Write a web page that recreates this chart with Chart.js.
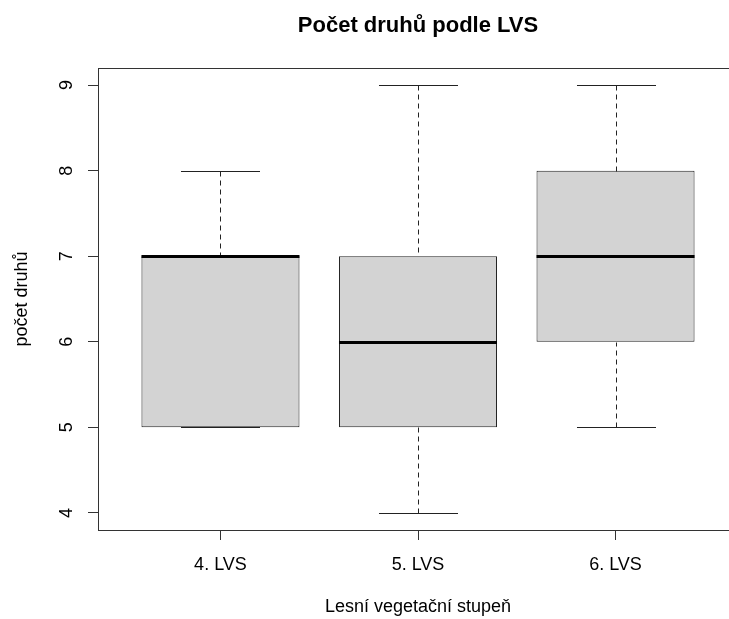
<!DOCTYPE html>
<html><head><meta charset="utf-8">
<script src="https://cdn.jsdelivr.net/npm/chart.js@4/dist/chart.umd.min.js"></script>
<style>html,body{margin:0;padding:0;background:#fff;overflow:hidden;width:729px;height:619px}canvas{display:block}</style>
</head><body>
<canvas id="c" width="740" height="619" style="width:740px;height:619px"></canvas>
<script>
const categories = ['4. LVS', '5. LVS', '6. LVS'];
const positions = [1, 2, 3];
const mins = [5, 4, 5];
const q1s = [5, 5, 6];
const medians = [7, 6, 7];
const q3s = [7, 7, 8];
const maxs = [8, 9, 9];
const yTicks = [4, 5, 6, 7, 8, 9];
const chartTitle = 'Počet druhů podle LVS';
const xTitle = 'Lesní vegetační stupeň';
const yTitle = 'počet druhů';

const FONT = "'Liberation Sans', Arial, sans-serif";
Chart.defaults.font.family = FONT;
Chart.defaults.color = '#000';

const boxPlugin = {
  id: 'boxExtras',
  afterDatasetsDraw(chart) {
    const ctx = chart.ctx;
    const xs = chart.scales.x, ys = chart.scales.y;
    const meta = chart.getDatasetMeta(0);
    ctx.save();
    positions.forEach((p, i) => {
      const bar = meta.data[i];
      const half = bar.width / 2;
      const cx = Math.round(xs.getPixelForValue(p)) + 0.5;
      const yMin = Math.round(ys.getPixelForValue(mins[i])) + 0.5;
      const yQ1 = Math.round(ys.getPixelForValue(q1s[i])) + 0.5;
      const yQ3 = Math.round(ys.getPixelForValue(q3s[i])) + 0.5;
      const yMax = Math.round(ys.getPixelForValue(maxs[i])) + 0.5;
      const yMed = Math.round(ys.getPixelForValue(medians[i]));
      ctx.strokeStyle = '#222';
      ctx.lineWidth = 1;
      // whiskers
      ctx.setLineDash([5, 4]);
      ctx.beginPath();
      if (yMax < yQ3) { ctx.moveTo(cx, yMax); ctx.lineTo(cx, yQ3); }
      if (yMin > yQ1) { ctx.moveTo(cx, yMin); ctx.lineTo(cx, yQ1); }
      ctx.stroke();
      ctx.setLineDash([]);
      // caps
      ctx.beginPath();
      ctx.moveTo(cx - half / 2, yMax); ctx.lineTo(cx + half / 2, yMax);
      ctx.moveTo(cx - half / 2, yMin); ctx.lineTo(cx + half / 2, yMin);
      ctx.stroke();
      // median
      ctx.strokeStyle = '#000';
      ctx.lineWidth = 3;
      ctx.beginPath();
      ctx.moveTo(bar.x - half, yMed + 0.5); ctx.lineTo(bar.x + half, yMed + 0.5);
      ctx.stroke();
    });
    ctx.restore();
  },
  afterDraw(chart) {
    const ctx = chart.ctx;
    const a = chart.chartArea;
    ctx.save();
    ctx.strokeStyle = '#333';
    ctx.lineWidth = 1;
    ctx.strokeRect(Math.round(a.left) + 0.5, Math.round(a.top) + 0.5,
                   Math.round(a.right - a.left), Math.round(a.bottom - a.top));
    ctx.fillStyle = '#000';
    ctx.font = "bold 22px " + FONT;
    ctx.textAlign = 'center';
    ctx.textBaseline = 'alphabetic';
    ctx.fillText(chartTitle, (a.left + a.right) / 2, 32);
    ctx.restore();
  }
};

new Chart(document.getElementById('c'), {
  type: 'bar',
  data: {
    datasets: [{
      data: positions.map((p, i) => ({ x: p, y: [q1s[i], q3s[i]] })),
      backgroundColor: '#d3d3d3',
      borderColor: '#222',
      borderWidth: 1,
      borderSkipped: false,
      barPercentage: 0.8,
      categoryPercentage: 1.0
    }]
  },
  options: {
    responsive: false,
    animation: false,
    events: [],
    layout: { padding: { left: 0, right: 2, top: 68, bottom: 0 } },
    plugins: { legend: { display: false }, tooltip: { enabled: false }, title: { display: false } },
    scales: {
      x: {
        type: 'linear',
        min: 0.38, max: 3.62,
        offset: false,
        afterBuildTicks: s => { s.ticks = positions.map(v => ({ value: v })); },
        afterFit: s => { s.height = 89; },
        ticks: {
          callback: v => categories[positions.indexOf(v)],
          font: { size: 18 }, color: '#000', padding: 14,
          maxRotation: 0, minRotation: 0, autoSkip: false
        },
        grid: { offset: false, drawOnChartArea: false, drawTicks: true, tickLength: 10, color: '#333', lineWidth: 1 },
        border: { display: true, color: '#333' },
        title: { display: true, text: xTitle, font: { size: 18 }, color: '#000', padding: { top: 0, bottom: 1 } }
      },
      y: {
        type: 'linear',
        min: 3.8, max: 9.2,
        afterBuildTicks: s => { s.ticks = yTicks.map(v => ({ value: v })); },
        afterFit: s => { s.width = 98; },
        ticks: {
          font: { size: 18 }, color: '#000', padding: 16,
          minRotation: 90, maxRotation: 90, crossAlign: 'center'
        },
        grid: { offset: false, drawOnChartArea: false, drawTicks: true, tickLength: 10, color: '#333', lineWidth: 1 },
        border: { display: true, color: '#333' },
        title: { display: true, text: yTitle, font: { size: 18 }, color: '#000', padding: { top: 11, bottom: 0 } }
      }
    }
  },
  plugins: [boxPlugin]
});
</script>
</body></html>
